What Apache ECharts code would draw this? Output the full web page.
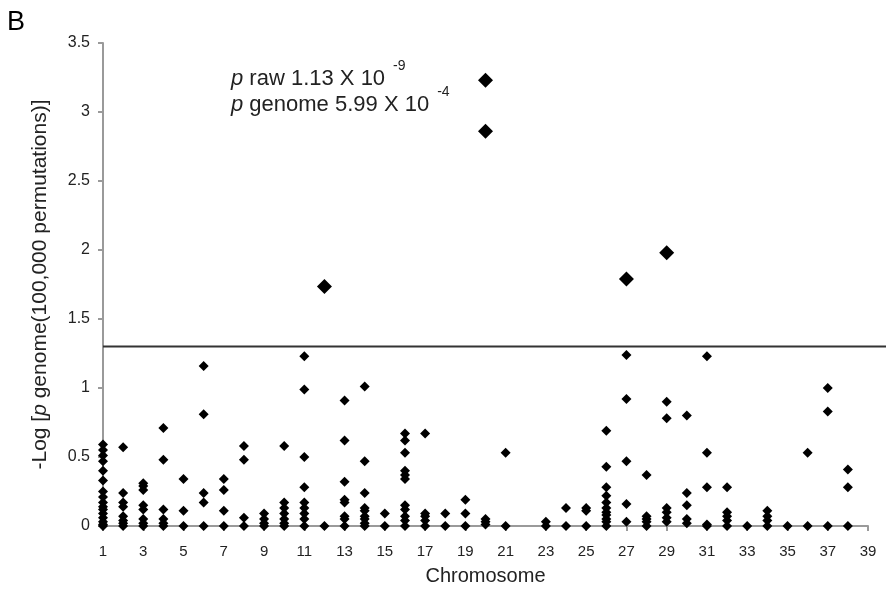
<!DOCTYPE html>
<html>
<head>
<meta charset="utf-8">
<title>Genome-wide permutation scan</title>
<script src="https://cdn.jsdelivr.net/npm/echarts@6/dist/echarts.min.js"></script>
<style>
  html, body { margin: 0; padding: 0; background: #fff; }
  #chart { width: 886px; height: 595px; }
</style>
</head>
<body>
<div id="chart"></div>
<script>
// Chromosome categories (also the x tick labels; every other one is shown)
const chromosomes = ['1','2','3','4','5','6','7','8','9','10','11','12','13','14','15','16','17','18','19','20',
  '21','22','23','24','25','26','27','28','29','30','31','32','33','34','35','36','37','38','39'];

// -log10(p genome) of each marker, listed per chromosome (index 0 = chromosome 1)
const markerValues = [
  [0.59, 0.55, 0.51, 0.47, 0.40, 0.33, 0.25, 0.21, 0.17, 0.14, 0.12, 0.09, 0.06, 0.03, 0.01, 0],
  [0.57, 0.24, 0.17, 0.14, 0.07, 0.04, 0.02, 0],
  [0.31, 0.29, 0.26, 0.15, 0.12, 0.05, 0.02, 0],
  [0.71, 0.48, 0.12, 0.05, 0.02, 0],
  [0.34, 0.11, 0],
  [1.16, 0.81, 0.24, 0.17, 0],
  [0.34, 0.26, 0.11, 0],
  [0.58, 0.48, 0.06, 0],
  [0.09, 0.05, 0.02, 0],
  [0.58, 0.17, 0.13, 0.09, 0.05, 0.02, 0],
  [1.23, 0.99, 0.50, 0.28, 0.17, 0.13, 0.09, 0.05, 0],
  [0],
  [0.91, 0.62, 0.32, 0.19, 0.17, 0.07, 0.05, 0],
  [1.01, 0.47, 0.24, 0.13, 0.11, 0.07, 0.05, 0.02, 0],
  [0.09, 0],
  [0.67, 0.62, 0.53, 0.40, 0.37, 0.34, 0.15, 0.12, 0.07, 0.04, 0],
  [0.67, 0.09, 0.07, 0.04, 0],
  [0.09, 0],
  [0.19, 0.09, 0],
  [0.05, 0.03, 0.01],
  [0.53, 0],
  [],
  [0.03, 0],
  [0.13, 0],
  [0.13, 0.11, 0],
  [0.69, 0.43, 0.28, 0.22, 0.17, 0.13, 0.10, 0.08, 0.05, 0.03, 0],
  [1.24, 0.92, 0.47, 0.16, 0.03],
  [0.37, 0.07, 0.05, 0.03, 0],
  [0.90, 0.78, 0.13, 0.10, 0.06, 0.03],
  [0.80, 0.24, 0.15, 0.05, 0.02],
  [1.23, 0.53, 0.28, 0.01, 0],
  [0.28, 0.10, 0.07, 0.04, 0],
  [0],
  [0.11, 0.07, 0.04, 0],
  [0],
  [0.53, 0],
  [1.00, 0.83, 0],
  [0.41, 0.28, 0],
  []
];

// Markers passing genome-wide significance (drawn larger)
const peakChromosome = ['12', '20', '20', '27', '29'];
const peakValues = [1.735, 3.23, 2.86, 1.79, 1.98];

// Genome-wide significance threshold, -log10(0.05)
const threshold = 1.3;

// Best-marker statistics shown in the annotation
const rawP = { mantissa: '1.13', exponent: '-9' };
const genomeP = { mantissa: '5.99', exponent: '-4' };

const FONT = '"Liberation Sans", Arial, Helvetica, sans-serif';
const AXIS_GRAY = '#9a9a9a';
const TEXT = '#222';
const NOTE_SIZE = 22;

const markerData = [];
markerValues.forEach((vals, i) => {
  vals.forEach(v => markerData.push([chromosomes[i], v]));
});
const peakData = peakChromosome.map((c, i) => [c, peakValues[i]]);

const chart = echarts.init(document.getElementById('chart'), null, { renderer: 'canvas' });

chart.setOption({
  animation: false,
  backgroundColor: '#fff',
  grid: { left: 103, right: 18, top: 43, bottom: 69, containLabel: false },
  xAxis: {
    type: 'category',
    data: chromosomes,
    boundaryGap: false,
    name: 'Chromosome',
    nameLocation: 'middle',
    nameGap: 40,
    nameTextStyle: { fontFamily: FONT, fontSize: 20, color: TEXT },
    axisLine: { show: true, lineStyle: { color: AXIS_GRAY, width: 2 } },
    axisTick: { show: true, interval: 1, length: 5, inside: false, alignWithLabel: true,
      lineStyle: { color: AXIS_GRAY, width: 2 } },
    axisLabel: { interval: 1, margin: 18, fontFamily: FONT, fontSize: 15, color: TEXT },
    splitLine: { show: false }
  },
  yAxis: {
    type: 'value',
    min: 0,
    max: 3.5,
    interval: 0.5,
    name: '-Log [{it|p} genome(100,000 permutations)]',
    nameLocation: 'middle',
    nameGap: 52,
    nameRotate: 90,
    nameTextStyle: {
      fontFamily: FONT, fontSize: 21, color: TEXT,
      rich: { it: { fontFamily: FONT, fontSize: 21, fontStyle: 'italic', color: TEXT } }
    },
    axisLine: { show: true, lineStyle: { color: AXIS_GRAY, width: 2 } },
    axisTick: { show: true, length: 5, inside: false, lineStyle: { color: AXIS_GRAY, width: 2 } },
    axisLabel: { margin: 13, fontFamily: FONT, fontSize: 16, color: TEXT },
    splitLine: { show: false }
  },
  series: [
    {
      name: 'markers',
      type: 'scatter',
      symbol: 'diamond',
      symbolSize: 10,
      clip: false,
      itemStyle: { color: '#000', opacity: 1 },
      data: markerData,
      z: 3
    },
    {
      name: 'significant',
      type: 'scatter',
      symbol: 'diamond',
      symbolSize: 15,
      clip: false,
      itemStyle: { color: '#000', opacity: 1 },
      data: peakData,
      z: 4
    }
  ]
});

// Threshold line and text annotations placed through the axis scales
const yThr = chart.convertToPixel({ yAxisIndex: 0 }, threshold);
const xStart = chart.convertToPixel({ xAxisIndex: 0 }, chromosomes[0]);

// Width of a plain/italic text run, used to put the exponent after "10"
const measureCtx = document.createElement('canvas').getContext('2d');
function textWidth(str, italic) {
  measureCtx.font = (italic ? 'italic ' : '') + NOTE_SIZE + 'px ' + FONT;
  return measureCtx.measureText(str).width;
}

function statLabel(id, word, stat, left, top) {
  const body = ' ' + word + ' ' + stat.mantissa + ' X 10';
  const width = textWidth('p', true) + textWidth(body, false);
  return [
    {
      type: 'text', id: id, left: left, top: top, z: 10,
      style: {
        text: '{it|p}' + body,
        font: NOTE_SIZE + 'px ' + FONT,
        fill: TEXT,
        rich: { it: { fontStyle: 'italic', fontSize: NOTE_SIZE, fontFamily: FONT, fill: TEXT } }
      }
    },
    {
      type: 'text', id: id + '-exp', left: left + width + 8, top: top - 9, z: 10,
      style: { text: stat.exponent, font: '14px ' + FONT, fill: TEXT }
    }
  ];
}

chart.setOption({
  graphic: [
    {
      type: 'line', id: 'threshold', z: 5,
      shape: { x1: xStart, y1: yThr, x2: 886, y2: yThr },
      style: { stroke: '#333', lineWidth: 2 }
    },
    {
      type: 'text', id: 'panel', left: 7, top: 9, z: 10,
      style: { text: 'B', font: '27px ' + FONT, fill: '#000' }
    }
  ].concat(
    statLabel('raw', 'raw', rawP, 231, 68),
    statLabel('genome', 'genome', genomeP, 231, 94)
  )
});
</script>
</body>
</html>
